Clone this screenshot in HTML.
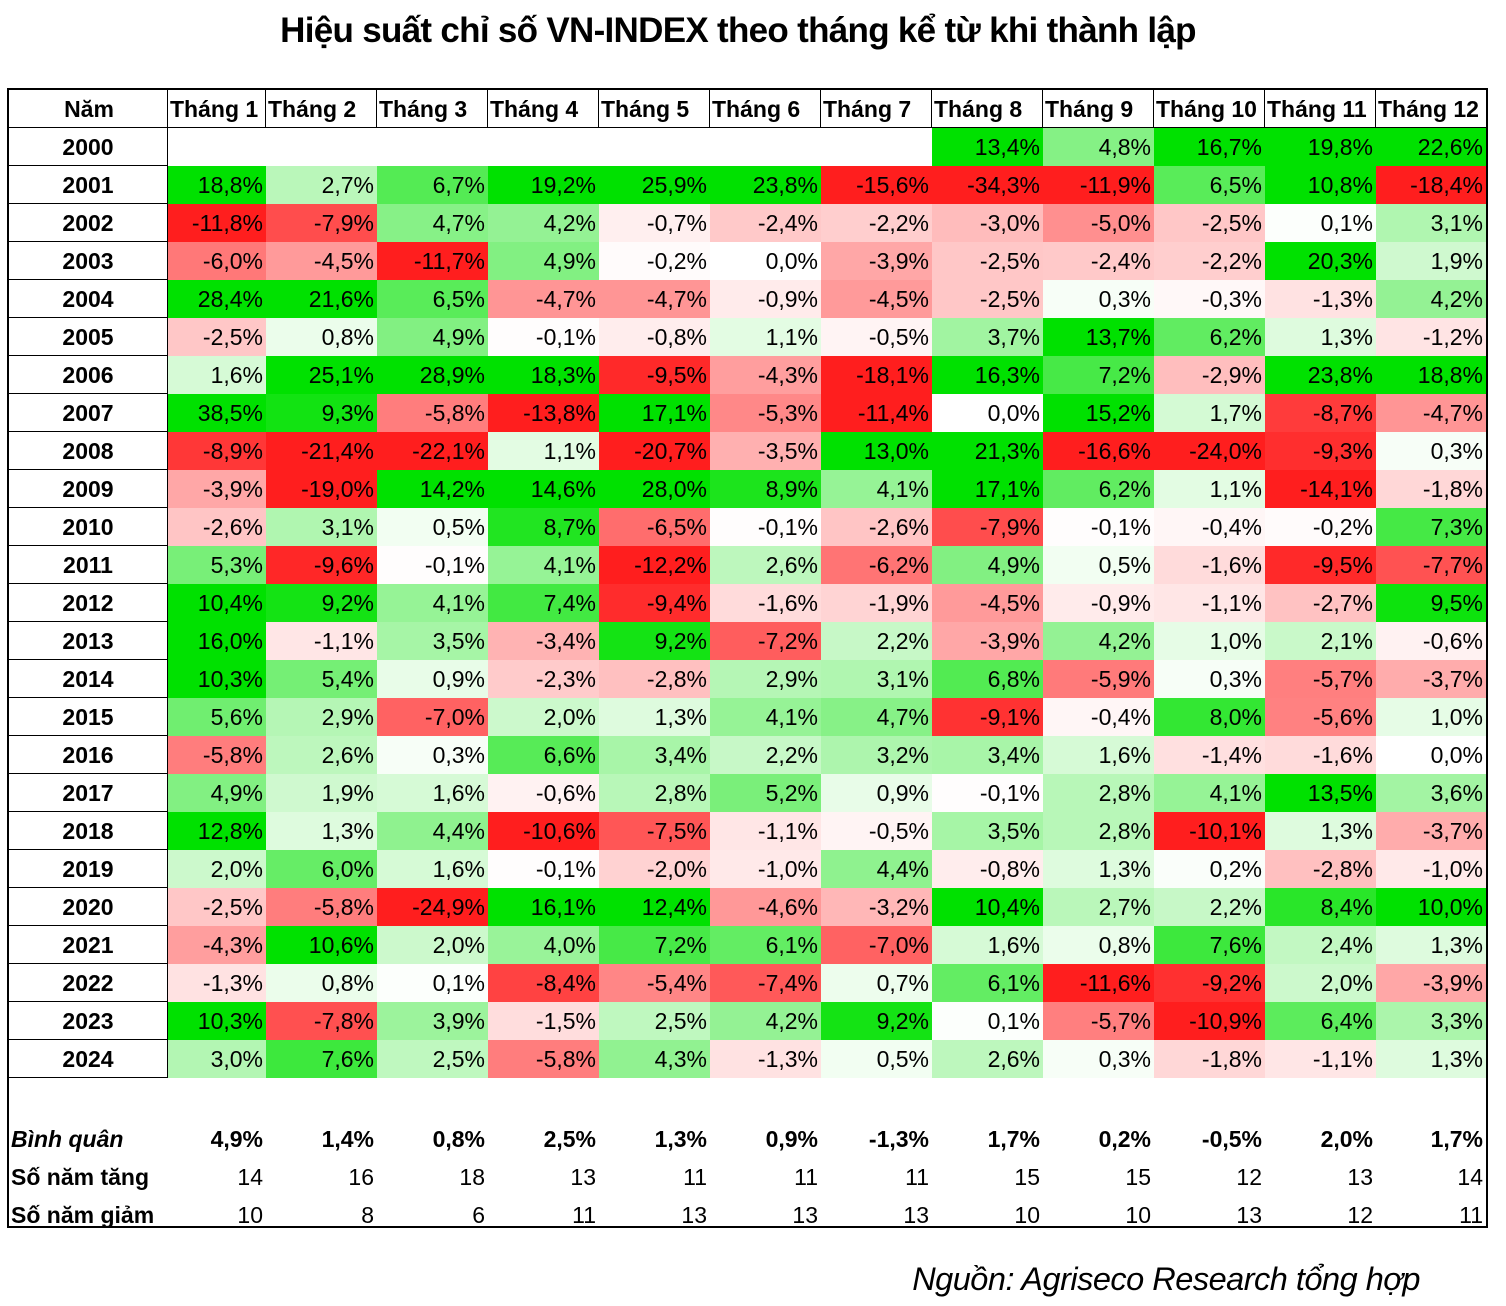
<!DOCTYPE html>
<html><head><meta charset="utf-8">
<style>
body{margin:0;width:1506px;height:1306px;background:#fff;position:relative;font-family:"Liberation Sans","DejaVu Sans",sans-serif;color:#000;overflow:hidden}
#title{position:absolute;left:0;width:1476px;top:11px;text-align:center;font-weight:bold;font-size:35px;letter-spacing:-0.7px}
#src{position:absolute;right:86px;top:1261px;font-style:italic;font-size:32.5px;letter-spacing:-0.5px}
#tbl{position:absolute;left:7px;top:88px;width:1477px;height:1136px;border:2px solid #000}
.r{display:grid;grid-template-columns:159px 98px repeat(10,111px) 110px;height:38px;font-size:23px;line-height:38px}
.r>div{text-align:right;padding-right:3px;white-space:nowrap;overflow:hidden}
.r>div:first-child{text-align:center;font-weight:bold;padding:0;border-right:1.5px solid #000;border-bottom:1.5px solid #000}
.h>div{font-weight:bold;text-align:left !important;padding:0 0 0 2px !important;border-right:1.5px solid #000;border-bottom:1.5px solid #000}
.h>div:first-child{text-align:center !important}
.h>div:last-child{border-right:none}
.sp{height:42px}
.f>div:first-child{border:none;text-align:left;font-weight:bold;padding-left:2px}
.b>div{font-weight:bold}
.b>div:first-child{font-style:italic}
</style></head><body>
<div id="title">Hiệu suất chỉ số VN-INDEX theo tháng kể từ khi thành lập</div>
<div id="tbl">
<div class="r h"><div>Năm</div><div>Tháng 1</div><div>Tháng 2</div><div>Tháng 3</div><div>Tháng 4</div><div>Tháng 5</div><div>Tháng 6</div><div>Tháng 7</div><div>Tháng 8</div><div>Tháng 9</div><div>Tháng 10</div><div>Tháng 11</div><div>Tháng 12</div></div>
<div class="r d"><div>2000</div><div></div><div></div><div></div><div></div><div></div><div></div><div></div><div>13,4%</div><div>4,8%</div><div>16,7%</div><div>19,8%</div><div>22,6%</div></div>
<div class="r d"><div>2001</div><div>18,8%</div><div>2,7%</div><div>6,7%</div><div>19,2%</div><div>25,9%</div><div>23,8%</div><div>-15,6%</div><div>-34,3%</div><div>-11,9%</div><div>6,5%</div><div>10,8%</div><div>-18,4%</div></div>
<div class="r d"><div>2002</div><div>-11,8%</div><div>-7,9%</div><div>4,7%</div><div>4,2%</div><div>-0,7%</div><div>-2,4%</div><div>-2,2%</div><div>-3,0%</div><div>-5,0%</div><div>-2,5%</div><div>0,1%</div><div>3,1%</div></div>
<div class="r d"><div>2003</div><div>-6,0%</div><div>-4,5%</div><div>-11,7%</div><div>4,9%</div><div>-0,2%</div><div>0,0%</div><div>-3,9%</div><div>-2,5%</div><div>-2,4%</div><div>-2,2%</div><div>20,3%</div><div>1,9%</div></div>
<div class="r d"><div>2004</div><div>28,4%</div><div>21,6%</div><div>6,5%</div><div>-4,7%</div><div>-4,7%</div><div>-0,9%</div><div>-4,5%</div><div>-2,5%</div><div>0,3%</div><div>-0,3%</div><div>-1,3%</div><div>4,2%</div></div>
<div class="r d"><div>2005</div><div>-2,5%</div><div>0,8%</div><div>4,9%</div><div>-0,1%</div><div>-0,8%</div><div>1,1%</div><div>-0,5%</div><div>3,7%</div><div>13,7%</div><div>6,2%</div><div>1,3%</div><div>-1,2%</div></div>
<div class="r d"><div>2006</div><div>1,6%</div><div>25,1%</div><div>28,9%</div><div>18,3%</div><div>-9,5%</div><div>-4,3%</div><div>-18,1%</div><div>16,3%</div><div>7,2%</div><div>-2,9%</div><div>23,8%</div><div>18,8%</div></div>
<div class="r d"><div>2007</div><div>38,5%</div><div>9,3%</div><div>-5,8%</div><div>-13,8%</div><div>17,1%</div><div>-5,3%</div><div>-11,4%</div><div>0,0%</div><div>15,2%</div><div>1,7%</div><div>-8,7%</div><div>-4,7%</div></div>
<div class="r d"><div>2008</div><div>-8,9%</div><div>-21,4%</div><div>-22,1%</div><div>1,1%</div><div>-20,7%</div><div>-3,5%</div><div>13,0%</div><div>21,3%</div><div>-16,6%</div><div>-24,0%</div><div>-9,3%</div><div>0,3%</div></div>
<div class="r d"><div>2009</div><div>-3,9%</div><div>-19,0%</div><div>14,2%</div><div>14,6%</div><div>28,0%</div><div>8,9%</div><div>4,1%</div><div>17,1%</div><div>6,2%</div><div>1,1%</div><div>-14,1%</div><div>-1,8%</div></div>
<div class="r d"><div>2010</div><div>-2,6%</div><div>3,1%</div><div>0,5%</div><div>8,7%</div><div>-6,5%</div><div>-0,1%</div><div>-2,6%</div><div>-7,9%</div><div>-0,1%</div><div>-0,4%</div><div>-0,2%</div><div>7,3%</div></div>
<div class="r d"><div>2011</div><div>5,3%</div><div>-9,6%</div><div>-0,1%</div><div>4,1%</div><div>-12,2%</div><div>2,6%</div><div>-6,2%</div><div>4,9%</div><div>0,5%</div><div>-1,6%</div><div>-9,5%</div><div>-7,7%</div></div>
<div class="r d"><div>2012</div><div>10,4%</div><div>9,2%</div><div>4,1%</div><div>7,4%</div><div>-9,4%</div><div>-1,6%</div><div>-1,9%</div><div>-4,5%</div><div>-0,9%</div><div>-1,1%</div><div>-2,7%</div><div>9,5%</div></div>
<div class="r d"><div>2013</div><div>16,0%</div><div>-1,1%</div><div>3,5%</div><div>-3,4%</div><div>9,2%</div><div>-7,2%</div><div>2,2%</div><div>-3,9%</div><div>4,2%</div><div>1,0%</div><div>2,1%</div><div>-0,6%</div></div>
<div class="r d"><div>2014</div><div>10,3%</div><div>5,4%</div><div>0,9%</div><div>-2,3%</div><div>-2,8%</div><div>2,9%</div><div>3,1%</div><div>6,8%</div><div>-5,9%</div><div>0,3%</div><div>-5,7%</div><div>-3,7%</div></div>
<div class="r d"><div>2015</div><div>5,6%</div><div>2,9%</div><div>-7,0%</div><div>2,0%</div><div>1,3%</div><div>4,1%</div><div>4,7%</div><div>-9,1%</div><div>-0,4%</div><div>8,0%</div><div>-5,6%</div><div>1,0%</div></div>
<div class="r d"><div>2016</div><div>-5,8%</div><div>2,6%</div><div>0,3%</div><div>6,6%</div><div>3,4%</div><div>2,2%</div><div>3,2%</div><div>3,4%</div><div>1,6%</div><div>-1,4%</div><div>-1,6%</div><div>0,0%</div></div>
<div class="r d"><div>2017</div><div>4,9%</div><div>1,9%</div><div>1,6%</div><div>-0,6%</div><div>2,8%</div><div>5,2%</div><div>0,9%</div><div>-0,1%</div><div>2,8%</div><div>4,1%</div><div>13,5%</div><div>3,6%</div></div>
<div class="r d"><div>2018</div><div>12,8%</div><div>1,3%</div><div>4,4%</div><div>-10,6%</div><div>-7,5%</div><div>-1,1%</div><div>-0,5%</div><div>3,5%</div><div>2,8%</div><div>-10,1%</div><div>1,3%</div><div>-3,7%</div></div>
<div class="r d"><div>2019</div><div>2,0%</div><div>6,0%</div><div>1,6%</div><div>-0,1%</div><div>-2,0%</div><div>-1,0%</div><div>4,4%</div><div>-0,8%</div><div>1,3%</div><div>0,2%</div><div>-2,8%</div><div>-1,0%</div></div>
<div class="r d"><div>2020</div><div>-2,5%</div><div>-5,8%</div><div>-24,9%</div><div>16,1%</div><div>12,4%</div><div>-4,6%</div><div>-3,2%</div><div>10,4%</div><div>2,7%</div><div>2,2%</div><div>8,4%</div><div>10,0%</div></div>
<div class="r d"><div>2021</div><div>-4,3%</div><div>10,6%</div><div>2,0%</div><div>4,0%</div><div>7,2%</div><div>6,1%</div><div>-7,0%</div><div>1,6%</div><div>0,8%</div><div>7,6%</div><div>2,4%</div><div>1,3%</div></div>
<div class="r d"><div>2022</div><div>-1,3%</div><div>0,8%</div><div>0,1%</div><div>-8,4%</div><div>-5,4%</div><div>-7,4%</div><div>0,7%</div><div>6,1%</div><div>-11,6%</div><div>-9,2%</div><div>2,0%</div><div>-3,9%</div></div>
<div class="r d"><div>2023</div><div>10,3%</div><div>-7,8%</div><div>3,9%</div><div>-1,5%</div><div>2,5%</div><div>4,2%</div><div>9,2%</div><div>0,1%</div><div>-5,7%</div><div>-10,9%</div><div>6,4%</div><div>3,3%</div></div>
<div class="r d"><div>2024</div><div>3,0%</div><div>7,6%</div><div>2,5%</div><div>-5,8%</div><div>4,3%</div><div>-1,3%</div><div>0,5%</div><div>2,6%</div><div>0,3%</div><div>-1,8%</div><div>-1,1%</div><div>1,3%</div></div>
<div class="sp"></div>
<div class="r f b"><div>Bình quân</div><div>4,9%</div><div>1,4%</div><div>0,8%</div><div>2,5%</div><div>1,3%</div><div>0,9%</div><div>-1,3%</div><div>1,7%</div><div>0,2%</div><div>-0,5%</div><div>2,0%</div><div>1,7%</div></div>
<div class="r f"><div>Số năm tăng</div><div>14</div><div>16</div><div>18</div><div>13</div><div>11</div><div>11</div><div>11</div><div>15</div><div>15</div><div>12</div><div>13</div><div>14</div></div>
<div class="r f"><div>Số năm giảm</div><div>10</div><div>8</div><div>6</div><div>11</div><div>13</div><div>13</div><div>13</div><div>10</div><div>10</div><div>13</div><div>12</div><div>11</div></div>
</div>
<div id="src">Nguồn: Agriseco Research tổng hợp</div>
<script>
document.querySelectorAll('.d').forEach(function(r){
  var c=r.children;
  for(var i=1;i<c.length;i++){
    var t=c[i].textContent; if(!t) continue;
    var v=parseFloat(t.replace(',','.'));
    var k=Math.min(1,Math.abs(v)/10);
    var R,G,B;
    if(v>=0){R=255-255*k;G=255-30*k;B=255-255*k;}
    else{R=255;G=255-225*k;B=255-225*k;}
    c[i].style.background='rgb('+Math.round(R)+','+Math.round(G)+','+Math.round(B)+')';
  }
});
</script>
</body></html>
